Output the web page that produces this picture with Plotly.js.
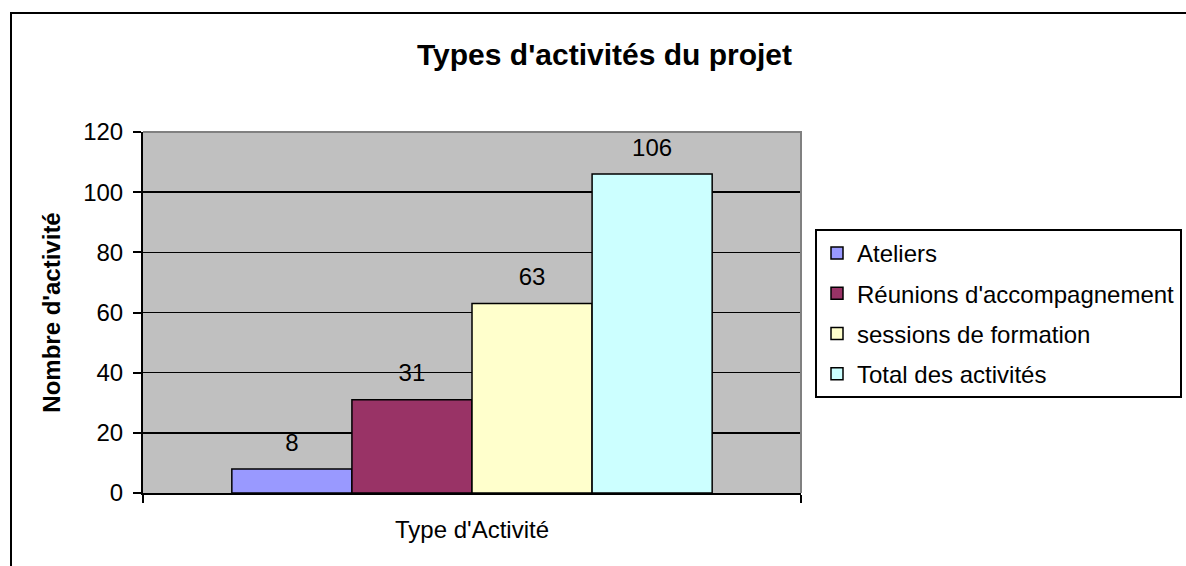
<!DOCTYPE html>
<html>
<head>
<meta charset="utf-8">
<script src="https://cdn.plot.ly/plotly-3.0.1.min.js"></script>
<style>html,body{margin:0;padding:0;background:#fff;}#chart{width:1186px;height:566px;}</style>
</head>
<body>
<div id="chart"></div>
<script>
const categories = ["Type d'Activité"];
const seriesNames = ["Ateliers", "Réunions d'accompagnement", "sessions de formation", "Total des activités"];
const seriesValues = [8, 31, 63, 106];
const seriesColors = ["#9999ff", "#993366", "#ffffcc", "#ccffff"];
const yTicks = [0, 20, 40, 60, 80, 100, 120];

const FONT = "Liberation Sans, Arial, sans-serif";

const traces = [];
seriesNames.forEach((name, i) => {
  traces.push({
    type: 'bar',
    name: name,
    x: categories,
    y: [seriesValues[i]],
    offsetgroup: 'g' + i,
    legendgroup: 'g' + i,
    marker: {color: seriesColors[i], line: {color: '#000', width: 1.5}},
    hoverinfo: 'skip'
  });
});
seriesNames.forEach((name, i) => {
  traces.push({
    type: 'scatter',
    mode: 'markers+text',
    x: categories,
    y: [seriesValues[i]],
    offsetgroup: 'g' + i,
    text: [String(seriesValues[i])],
    textposition: 'top center',
    textfont: {family: FONT, size: 24, color: '#000'},
    marker: {size: 18, opacity: 0},
    showlegend: false,
    cliponaxis: false,
    hoverinfo: 'skip'
  });
});

const px0 = 143, px1 = 801, py0 = 132, py1 = 493;
const pw = px1 - px0, ph = py1 - py0;
const fx = (p) => (p - px0) / pw;
const fy = (p) => (py1 - p) / ph;

const layout = {
  width: 1186, height: 566,
  margin: {l: px0, r: 1186 - px1, t: py0, b: 566 - py1, autoexpand: false},
  paper_bgcolor: '#ffffff',
  plot_bgcolor: '#c0c0c0',
  barmode: 'group',
  bargap: 0.27,
  bargroupgap: 0,
  scattermode: 'group',
  scattergap: 0.27,
  font: {family: FONT, size: 24, color: '#000'},
  title: {
    text: "Types d'activités du projet",
    font: {family: FONT, size: 30, weight: 'bold', color: '#000'},
    x: 0.5097, xref: 'container', xanchor: 'center',
    y: 0.903, yref: 'container', yanchor: 'middle'
  },
  xaxis: {
    type: 'category',
    showticklabels: false,
    showline: true, linecolor: '#000', linewidth: 2,
    ticks: 'outside', tickson: 'boundaries', ticklen: 8, tickcolor: '#000', tickwidth: 2,
    showgrid: false, zeroline: false,
    title: {text: "Type d'Activité", font: {family: FONT, size: 24, color: '#000'}, standoff: 27}
  },
  yaxis: {
    range: [0, 120],
    tickvals: yTicks,
    ticktext: yTicks.map(String),
    tickfont: {family: FONT, size: 24, color: '#000'},
    ticklabelstandoff: 5,
    showline: true, linecolor: '#000', linewidth: 2,
    ticks: 'outside', ticklen: 8, tickcolor: '#000', tickwidth: 2,
    showgrid: true, gridcolor: '#000', gridwidth: 1.5,
    zeroline: false,
    title: {text: "Nombre d'activité", font: {family: FONT, size: 24, weight: 'bold', color: '#000'}, standoff: 16}
  },
  legend: {
    x: fx(815), y: fy(229), xanchor: 'left', yanchor: 'top',
    bgcolor: '#ffffff', bordercolor: '#000', borderwidth: 2,
    font: {family: FONT, size: 24, color: '#000'},
    traceorder: 'grouped', tracegroupgap: 6,
    itemclick: false, itemdoubleclick: false
  },
  shapes: [
    {type: 'path', xref: 'paper', yref: 'paper',
     path: 'M 0,1 L 1,1 L 1,0', line: {color: '#808080', width: 2}, layer: 'above'},
    {type: 'rect', xref: 'paper', yref: 'paper',
     x0: fx(11), x1: fx(1200), y0: fy(580), y1: fy(13),
     line: {color: '#000', width: 2}, fillcolor: 'rgba(0,0,0,0)', layer: 'below'}
  ],
  showlegend: true
};

Plotly.newPlot('chart', traces, layout, {displayModeBar: false, staticPlot: true});
</script>
</body>
</html>
